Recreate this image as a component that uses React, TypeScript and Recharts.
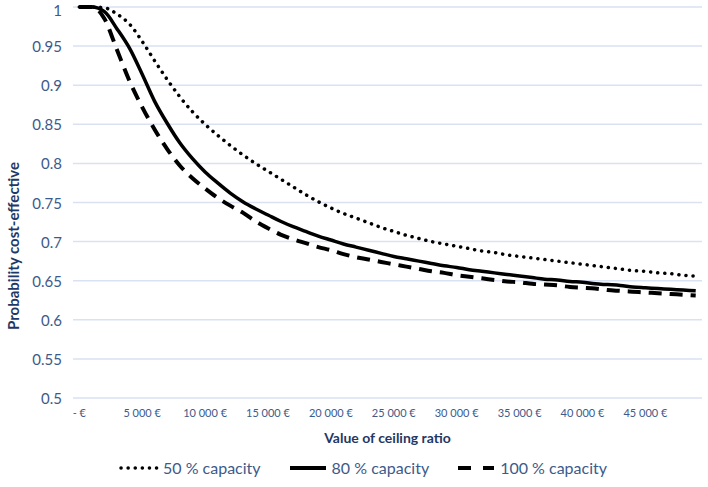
import React from "react";
import {
    LineChart,
    Line,
    XAxis,
    YAxis,
    CartesianGrid,
    Legend,
} from "recharts";

// ceiling ratio (€), one point every 1 000 €
const ceilingRatio = [
    0, 1000, 2000, 3000, 4000, 5000, 6000, 7000, 8000, 9000,
    10000, 11000, 12000, 13000, 14000, 15000, 16000, 17000, 18000, 19000,
    20000, 21000, 22000, 23000, 24000, 25000, 26000, 27000, 28000, 29000,
    30000, 31000, 32000, 33000, 34000, 35000, 36000, 37000, 38000, 39000,
    40000, 41000, 42000, 43000, 44000, 45000, 46000, 47000, 48000, 49000,
];

const capacity50 = [
    1.0, 1.0, 0.999, 0.991, 0.978, 0.956, 0.931, 0.907, 0.885, 0.866,
    0.85, 0.836, 0.823, 0.811, 0.8, 0.79, 0.78, 0.77, 0.76, 0.751,
    0.743, 0.736, 0.73, 0.724, 0.718, 0.713, 0.708, 0.704, 0.7, 0.697,
    0.694, 0.691, 0.688, 0.686, 0.683, 0.681, 0.679, 0.677, 0.675, 0.673,
    0.671, 0.669, 0.667, 0.665, 0.663, 0.662, 0.66, 0.659, 0.657, 0.656,
];

const capacity80 = [
    1.0, 1.0, 0.994, 0.972, 0.947, 0.914, 0.879, 0.851, 0.826, 0.806,
    0.789, 0.775, 0.762, 0.751, 0.742, 0.734, 0.726, 0.719, 0.713, 0.707,
    0.702, 0.697, 0.693, 0.689, 0.685, 0.681, 0.678, 0.675, 0.672, 0.669,
    0.667, 0.664, 0.662, 0.66, 0.658, 0.656, 0.654, 0.652, 0.651, 0.649,
    0.648, 0.646, 0.645, 0.644, 0.642, 0.641, 0.64, 0.639, 0.638, 0.637,
];

const capacity100 = [
    1.0, 1.0, 0.985, 0.945, 0.905, 0.872, 0.843, 0.818, 0.797, 0.781,
    0.768, 0.756, 0.746, 0.737, 0.726, 0.717, 0.709, 0.703, 0.698, 0.693,
    0.689, 0.684, 0.68, 0.677, 0.674, 0.671, 0.668, 0.665, 0.662, 0.66,
    0.657, 0.655, 0.653, 0.651, 0.649, 0.648, 0.646, 0.645, 0.644, 0.642,
    0.641, 0.64, 0.638, 0.637, 0.636, 0.635, 0.634, 0.633, 0.632, 0.631,
];

const xTicks = [0, 5000, 10000, 15000, 20000, 25000, 30000, 35000, 40000, 45000];
const yTicks = [0.5, 0.55, 0.6, 0.65, 0.7, 0.75, 0.8, 0.85, 0.9, 0.95, 1];

const seriesNames = ["50 % capacity", "80 % capacity", "100 % capacity"];

const FONT = "Lato, 'Open Sans', sans-serif";
const TICK_COLOR = "#3d5a8a";
const TITLE_COLOR = "#1f3864";

const data = ceilingRatio.map((x, i) => ({
    x,
    c50: capacity50[i],
    c80: capacity80[i],
    c100: capacity100[i],
}));

function formatEuro(v: number) {
    if (v === 0) return "-   €";
    const s = String(v);
    return s.slice(0, s.length - 3) + " " + s.slice(-3) + " €";
}

// Excel put the y title lower than the plot centre
function YTitle() {
    return (
        <text
            x={13}
            y={246}
            transform="rotate(-90, 13, 246)"
            textAnchor="middle"
            dominantBaseline="central"
            fontSize={15}
            fontWeight={700}
            fill={TITLE_COLOR}
            fontFamily={FONT}
        >
            Probability cost-effective
        </text>
    );
}

// keep the top label ("1") inside the picture
function YTick(props: any) {
    const { x, y, payload } = props;
    const ty = Math.max(y, 10);
    return (
        <text
            x={x}
            y={ty}
            textAnchor="end"
            dominantBaseline="central"
            fontSize={15}
            fill={TICK_COLOR}
            fontFamily={FONT}
        >
            {payload.value}
        </text>
    );
}

function LegendContent() {
    const samples = [
        { dash: "0.1 7", cap: "round" as const, width: 3.5 },
        { dash: undefined, cap: "butt" as const, width: 4 },
        { dash: "13 12", cap: "butt" as const, width: 4 },
    ];
    return (
        <div
            style={{
                display: "flex",
                justifyContent: "center",
                alignItems: "center",
                paddingLeft: 24,
                fontFamily: FONT,
                fontSize: 16,
                color: TICK_COLOR,
                height: 39,
            }}
        >
            {seriesNames.map((name, i) => (
                <div
                    key={name}
                    style={{ display: "flex", alignItems: "center", marginRight: i < 2 ? 27 : 0 }}
                >
                    <svg width={40} height={10} style={{ marginRight: 4 }}>
                        <line
                            x1={2}
                            y1={5}
                            x2={38}
                            y2={5}
                            stroke="#000"
                            strokeWidth={samples[i].width}
                            strokeDasharray={samples[i].dash}
                            strokeLinecap={samples[i].cap}
                        />
                    </svg>
                    <span>{name}</span>
                </div>
            ))}
        </div>
    );
}

export default function App() {
    return (
        <div style={{ position: "absolute", left: 0, top: 0, width: 708, height: 487, background: "#fff" }}>
            <LineChart
                width={708}
                height={487}
                data={data}
                margin={{ top: 7, right: 6, left: 0, bottom: 0 }}
            >
                <CartesianGrid vertical={false} stroke="#d9e1f2" strokeWidth={1.5} />
                <XAxis
                    dataKey="x"
                    type="number"
                    domain={[-500, 49500]}
                    ticks={xTicks}
                    tickFormatter={formatEuro}
                    axisLine={false}
                    tickLine={false}
                    height={50}
                    tickMargin={5}
                    interval={0}
                    tick={{ fontSize: 11, fill: TICK_COLOR, fontFamily: FONT }}
                    label={{
                        value: "Value of ceiling ratio",
                        position: "insideBottom",
                        offset: 5,
                        style: { fontSize: 14, fontWeight: 700, fill: TITLE_COLOR, fontFamily: FONT },
                    }}
                />
                <YAxis
                    type="number"
                    domain={[0.5, 1]}
                    ticks={yTicks}
                    axisLine={false}
                    tickLine={false}
                    width={73}
                    tickMargin={5}
                    interval={0}
                    tick={<YTick />}
                    label={<YTitle />}
                />
                <Legend verticalAlign="bottom" height={39} content={() => <LegendContent />} />
                <Line
                    type="monotone"
                    dataKey="c50"
                    name={seriesNames[0]}
                    stroke="#000"
                    strokeWidth={3.5}
                    strokeDasharray="0.1 7"
                    strokeLinecap="round"
                    dot={false}
                    isAnimationActive={false}
                />
                <Line
                    type="monotone"
                    dataKey="c80"
                    name={seriesNames[1]}
                    stroke="#000"
                    strokeWidth={3.5}
                    dot={false}
                    isAnimationActive={false}
                />
                <Line
                    type="monotone"
                    dataKey="c100"
                    name={seriesNames[2]}
                    stroke="#000"
                    strokeWidth={4}
                    strokeDasharray="13 8"
                    dot={false}
                    isAnimationActive={false}
                />
            </LineChart>
        </div>
    );
}
